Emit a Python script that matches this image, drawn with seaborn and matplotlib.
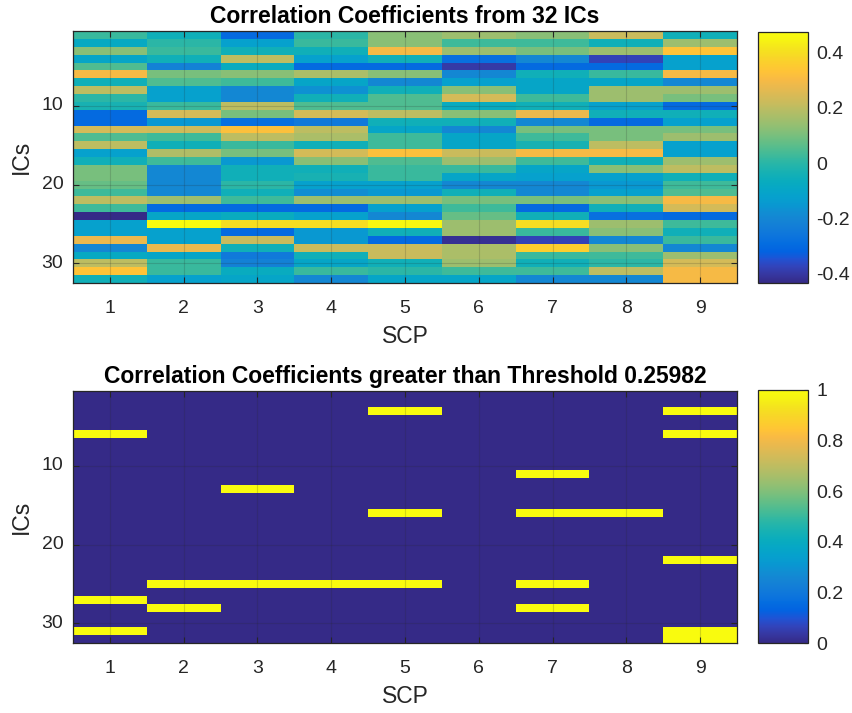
import numpy as np
import pandas as pd
import matplotlib
matplotlib.use("Agg")
import matplotlib.pyplot as plt
from matplotlib.colors import LinearSegmentedColormap
from matplotlib.ticker import FuncFormatter
import seaborn as sns

# ---- data: correlation of each IC (rows) with each SCP (columns) ----
scp_labels = [1, 2, 3, 4, 5, 6, 7, 8, 9]
ic_labels = list(range(1, 33))
threshold = 0.25982

scp1 = [0.02, -0.08, 0.12, -0.10, 0.05, 0.30, -0.05, 0.20, 0.00, -0.03, -0.30, -0.30, 0.24, 0.05, 0.20, -0.12,
        -0.05, 0.10, 0.10, 0.08, 0.03, 0.20, 0.03, -0.436, -0.12, -0.12, 0.28, -0.20, -0.08, 0.20, 0.33, -0.05]
scp2 = [-0.05, 0.00, 0.02, -0.05, -0.22, 0.10, 0.05, -0.12, -0.12, 0.02, 0.24, -0.15, 0.23, 0.03, -0.05, 0.18,
        0.03, -0.20, -0.20, -0.20, -0.20, 0.15, -0.30, -0.10, 0.476, -0.12, -0.12, 0.28, -0.10, 0.02, 0.02, -0.12]
scp3 = [-0.30, -0.12, -0.05, 0.20, -0.07, 0.12, 0.03, -0.20, -0.20, 0.20, 0.10, -0.28, 0.32, 0.20, 0.02, 0.10,
        -0.15, -0.05, -0.05, 0.00, -0.05, 0.03, -0.30, -0.07, 0.40, -0.30, 0.22, -0.05, -0.25, -0.22, -0.07, -0.10]
scp4 = [0.00, 0.02, -0.05, -0.12, -0.30, 0.17, -0.10, -0.17, -0.05, 0.05, 0.24, -0.25, 0.20, 0.17, -0.05, 0.24,
        0.12, -0.05, -0.03, -0.12, -0.18, 0.15, -0.30, -0.12, 0.40, -0.15, -0.15, 0.22, -0.05, -0.10, 0.02, -0.20]
scp5 = [0.12, 0.12, 0.30, -0.05, -0.30, 0.12, -0.20, -0.05, 0.05, 0.05, 0.20, -0.05, -0.10, 0.03, 0.03, 0.32,
        0.05, 0.02, 0.02, -0.12, -0.15, 0.15, -0.12, -0.20, 0.46, -0.05, -0.30, 0.22, 0.22, -0.05, 0.00, -0.10]
scp6 = [0.15, 0.03, 0.15, -0.28, -0.40, -0.20, -0.12, 0.12, 0.24, -0.07, 0.12, -0.05, -0.20, -0.10, -0.10, 0.22,
        0.15, 0.02, -0.10, -0.20, -0.05, 0.10, 0.03, 0.08, 0.15, 0.15, -0.42, 0.17, 0.17, 0.15, 0.03, -0.10]
scp7 = [0.12, 0.03, 0.10, -0.20, -0.30, -0.05, -0.10, -0.10, 0.03, -0.05, 0.28, -0.20, 0.10, 0.03, -0.03, 0.30,
        0.03, -0.10, -0.12, -0.20, -0.20, 0.10, -0.30, -0.05, 0.40, 0.02, -0.38, 0.36, 0.02, -0.05, 0.03, -0.20]
scp8 = [0.22, -0.05, 0.15, -0.38, -0.30, 0.02, -0.10, 0.15, 0.15, -0.12, -0.05, -0.30, 0.10, 0.10, 0.20, 0.30,
        -0.05, 0.12, -0.12, -0.15, -0.12, 0.12, -0.05, -0.28, 0.15, 0.12, -0.20, 0.12, 0.03, 0.00, 0.20, -0.20]
scp9 = [-0.05, 0.15, 0.33, -0.12, -0.12, 0.30, -0.20, 0.15, 0.10, -0.30, -0.05, -0.12, 0.10, 0.15, -0.12, -0.12,
        0.15, 0.20, -0.05, 0.03, 0.05, 0.30, 0.24, -0.30, 0.03, -0.05, 0.02, -0.20, 0.15, 0.24, 0.30, 0.30]

corr = pd.DataFrame(np.column_stack([scp1, scp2, scp3, scp4, scp5, scp6, scp7, scp8, scp9]),
                    index=ic_labels, columns=scp_labels)
above = (corr > threshold).astype(float)

# ---- parula-like colormap ----
parula_rgb = [
    [0.2081, 0.1663, 0.5292], [0.2123, 0.2138, 0.6270], [0.1959, 0.2645, 0.7279],
    [0.1253, 0.3242, 0.8303], [0.0117, 0.3875, 0.8820], [0.0165, 0.4266, 0.8786],
    [0.0498, 0.4586, 0.8641], [0.0723, 0.4887, 0.8467], [0.0793, 0.5200, 0.8312],
    [0.0641, 0.5570, 0.8240], [0.0343, 0.5966, 0.8199], [0.0239, 0.6287, 0.8038],
    [0.0228, 0.6535, 0.7768], [0.0384, 0.6743, 0.7436], [0.0843, 0.6928, 0.7062],
    [0.1453, 0.7098, 0.6646], [0.2178, 0.7250, 0.6193], [0.3022, 0.7376, 0.5712],
    [0.3953, 0.7459, 0.5244], [0.4871, 0.7491, 0.4840], [0.5709, 0.7485, 0.4494],
    [0.6473, 0.7456, 0.4188], [0.7184, 0.7411, 0.3905], [0.7858, 0.7356, 0.3633],
    [0.8507, 0.7299, 0.3360], [0.9139, 0.7258, 0.3063], [0.9739, 0.7314, 0.2666],
    [0.9990, 0.7653, 0.2164], [0.9880, 0.8066, 0.1794], [0.9697, 0.8481, 0.1475],
    [0.9589, 0.8949, 0.1132], [0.9661, 0.9514, 0.0755], [0.9763, 0.9831, 0.0538],
]
parula = LinearSegmentedColormap.from_list("parula", parula_rgb, N=256)

sns.set_theme(style="white")
plt.rcParams["font.family"] = ["Liberation Sans", "DejaVu Sans"]
ink = (0.15, 0.15, 0.15)

fig = plt.figure(figsize=(8.52, 7.13), dpi=100)
W, H = 852, 713


def box(x0, y0, x1, y1):
    return [x0 / W, 1 - y1 / H, (x1 - x0) / W, (y1 - y0) / H]


ax_top = fig.add_axes(box(73, 31, 737, 283))
cax_top = fig.add_axes(box(758, 32, 808, 283))
ax_bot = fig.add_axes(box(73, 391, 737, 643))
cax_bot = fig.add_axes(box(758, 390, 808, 643))

fmt = FuncFormatter(lambda v, _: "0" if abs(v) < 1e-9 else f"{round(v, 6):g}")


def style(ax, cax, title, cticks):
    ax.set_xticks([k - 0.5 for k in scp_labels])
    ax.set_xticklabels([str(k) for k in scp_labels], rotation=0)
    ax.set_yticks([9.5, 19.5, 29.5])
    ax.set_yticklabels(["10", "20", "30"], rotation=0)
    ax.tick_params(axis="both", which="both", direction="in", length=4, width=0.8,
                   color=ink, labelcolor=ink, labelsize=14, top=True, right=True,
                   bottom=True, left=True, labeltop=False, labelright=False)
    ax.tick_params(axis="x", pad=12)
    ax.tick_params(axis="y", pad=7)
    for s in ax.spines.values():
        s.set_visible(True)
        s.set_color(ink)
        s.set_linewidth(0.9)
    ax.set_axisbelow(False)
    ax.grid(True, color=ink, alpha=0.18, linewidth=0.8)
    ax.set_xlabel("SCP", fontsize=16.5, color=ink, labelpad=6)
    ax.set_ylabel("ICs", fontsize=16.5, color=ink, labelpad=6)
    ax.set_title(title, fontsize=16.5, fontweight="bold", color="black", pad=6)

    cbar = ax.collections[0].colorbar
    cbar.set_ticks(cticks)
    cbar.ax.yaxis.set_major_formatter(fmt)
    cbar.outline.set_visible(True)
    cbar.outline.set_edgecolor(ink)
    cbar.outline.set_linewidth(0.9)
    cax.tick_params(axis="y", direction="in", length=3, width=0.8, color=ink,
                    labelcolor=ink, labelsize=14, right=True, left=False, pad=6)


sns.heatmap(corr, ax=ax_top, cmap=parula, cbar_ax=cax_top,
            vmin=corr.values.min(), vmax=corr.values.max(), linewidths=0)
style(ax_top, cax_top, "Correlation Coefficients from 32 ICs", [-0.4, -0.2, 0, 0.2, 0.4])

sns.heatmap(above, ax=ax_bot, cmap=parula, cbar_ax=cax_bot, vmin=0, vmax=1, linewidths=0)
style(ax_bot, cax_bot, f"Correlation Coefficients greater than Threshold {threshold:g}",
      [0, 0.2, 0.4, 0.6, 0.8, 1])

fig.savefig("out.png", dpi=100, facecolor="white")
